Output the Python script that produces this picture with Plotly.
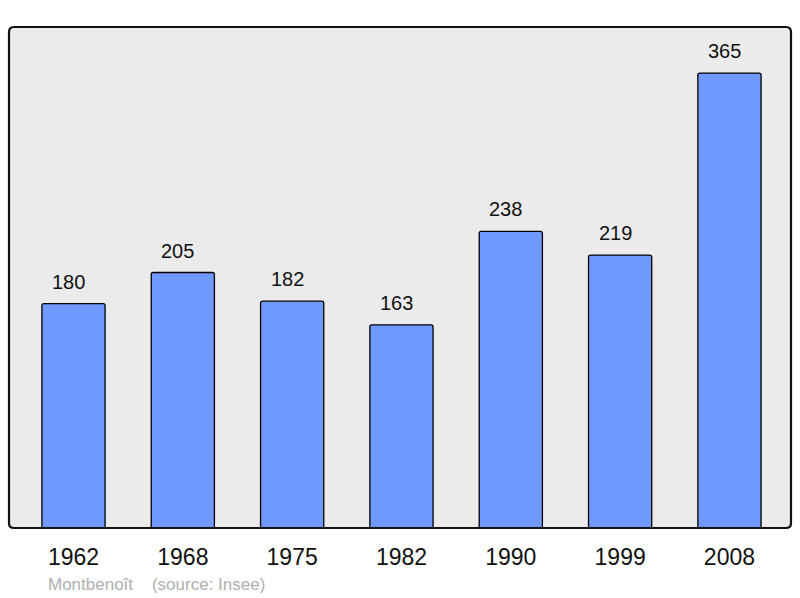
import plotly.graph_objects as go

years = ["1962", "1968", "1975", "1982", "1990", "1999", "2008"]
population = [180, 205, 182, 163, 238, 219, 365]
source_text = "Montbenoît    (source: Insee)"

FONT = "Liberation Sans, Arial, sans-serif"

fig = go.Figure()
fig.add_trace(go.Bar(
    x=list(range(len(years))),
    y=population,
    width=0.578,
    marker=dict(color="#7099ff", line=dict(color="#000000", width=1.3), cornerradius=2),
    hoverinfo="skip",
))

for i, v in enumerate(population):
    fig.add_annotation(x=i, y=v, text=str(v), showarrow=False,
                       yanchor="bottom", yshift=9, xshift=-5,
                       font=dict(family=FONT, size=20, color="#111111"))

fig.add_annotation(xref="paper", yref="paper", x=(46 - 9) / 782, y=-(584 - 528) / 501,
                   xanchor="left", yanchor="middle", showarrow=False,
                   text=source_text, font=dict(family=FONT, size=17, color="#b0b0b0"))

# rounded border of plot area (paper coords)
rx, ry = 5 / 782, 5 / 501
path = (f"M {rx},0 L {1-rx},0 Q 1,0 1,{ry} L 1,{1-ry} Q 1,1 {1-rx},1 "
        f"L {rx},1 Q 0,1 0,{1-ry} L 0,{ry} Q 0,0 {rx},0 Z")
fig.add_shape(type="path", xref="paper", yref="paper", path=path,
              line=dict(color="#111111", width=2.2), fillcolor="rgba(0,0,0,0)", layer="above")

fig.update_layout(
    width=800, height=598,
    margin=dict(l=9, r=9, t=27, b=70),
    paper_bgcolor="#ffffff",
    plot_bgcolor="#ebebeb",
    showlegend=False,
    xaxis=dict(
        range=[-0.59, 6.563],
        tickmode="array",
        tickvals=list(range(len(years))),
        ticktext=years,
        tickfont=dict(family=FONT, size=23, color="#111111"),
        showgrid=False, zeroline=False,
        ticks="outside", ticklen=8, tickcolor="rgba(0,0,0,0)",
        fixedrange=True,
    ),
    yaxis=dict(
        range=[0, 402],
        showgrid=False, zeroline=False, showticklabels=False,
        fixedrange=True,
    ),
)

fig.write_html("out.html", config={"displayModeBar": False},
               post_script="document.body.style.margin='0';document.body.style.overflow='hidden';")
